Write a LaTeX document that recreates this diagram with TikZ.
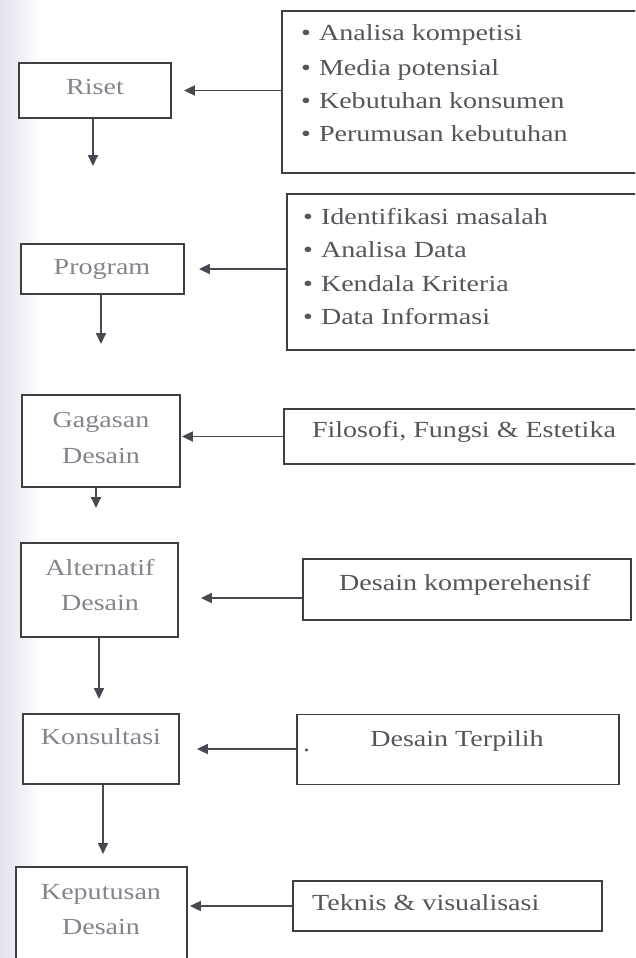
\documentclass[tikz,border=0pt]{standalone}
\usepackage{fontspec}
\newfontfamily\diagfont{Liberation Serif}[FakeStretch=1.22]
\usetikzlibrary{arrows.meta,calc}
\definecolor{edgecol}{RGB}{62,62,68}
\definecolor{arrcol}{RGB}{72,72,80}
\definecolor{txtdark}{RGB}{85,85,92}
\definecolor{txtlight}{RGB}{132,132,140}
\definecolor{scanshade}{RGB}{226,226,235}
\begin{document}
\begin{tikzpicture}[x=1pt,y=-1pt,
  box/.style={draw=edgecol, line width=1.8pt, fill=white, inner sep=0pt},
  ltxt/.style={font=\diagfont\fontsize{23}{30}\selectfont, text=txtlight, anchor=base, inner sep=0pt},
  rtxt/.style={font=\diagfont\fontsize{23}{30}\selectfont, text=txtdark, anchor=base, inner sep=0pt},
  btxt/.style={rtxt, anchor=base west},
  arr/.style={draw=arrcol, line width=1.8pt, -{Triangle[length=11pt,width=10pt]}}
]
\useasboundingbox (0,0) rectangle (635,958);
\clip (0,0) rectangle (635,958);
\fill[white] (0,0) rectangle (635,958);
\shade[left color=scanshade, right color=white] (0,0) rectangle (42,958);

% left column boxes
\node[box, minimum width=152pt, minimum height=55pt] (ris) at (95,90.5) {};
\node[box, minimum width=163pt, minimum height=50pt] (prog) at (102.5,269) {};
\node[box, minimum width=158pt, minimum height=92pt] (gag) at (101,441) {};
\node[box, minimum width=157pt, minimum height=94pt] (alt) at (99.5,590) {};
\node[box, minimum width=156pt, minimum height=70pt] (kons) at (101,749) {};
\node[box, minimum width=171pt, minimum height=130pt] (kep) at (101.5,932) {};

% left column texts
\node[ltxt] (tris) at (95,94) {Riset};
\node[ltxt] (tprog) at (102,274) {Program};
\node[ltxt] (tgag1) at (101,427) {Gagasan};
\node[ltxt] (tgag2) at (101,463) {Desain};
\node[ltxt] (talt1) at (100,575) {Alternatif};
\node[ltxt] (talt2) at (100,610) {Desain};
\node[ltxt] (tkons) at (101,744) {Konsultasi};
\node[ltxt] (tkep1) at (101,899) {Keputusan};
\node[ltxt] (tkep2) at (101,934) {Desain};

% right column boxes
\node[box, minimum width=370pt, minimum height=162pt] (b1) at (467,92) {};
\node[box, minimum width=365pt, minimum height=156pt] (b2) at (469.5,272) {};
\node[box, minimum width=370pt, minimum height=55pt] (b3) at (469,436.5) {};
\node[box, minimum width=328pt, minimum height=61pt] (b4) at (467,589.5) {};
\node[box, minimum width=322pt, minimum height=70pt] (b5) at (458,749.5) {};
\node[box, minimum width=309pt, minimum height=50pt] (b6) at (447.5,906) {};

% right column texts
\node[btxt] (l11) at (301,41) {•\hspace{8pt}Analisa kompetisi};
\node[btxt] (l12) at (301,75) {•\hspace{8pt}Media potensial};
\node[btxt] (l13) at (301,108) {•\hspace{8pt}Kebutuhan konsumen};
\node[btxt] (l14) at (301,141) {•\hspace{8pt}Perumusan kebutuhan};
\node[btxt] (l21) at (303,224) {•\hspace{8pt}Identifikasi masalah};
\node[btxt] (l22) at (303,257) {•\hspace{8pt}Analisa Data};
\node[btxt] (l23) at (303,291) {•\hspace{8pt}Kendala Kriteria};
\node[btxt] (l24) at (303,324) {•\hspace{8pt}Data Informasi};
\node[rtxt] (t3) at (464,437) {Filosofi, Fungsi \& Estetika};
\node[rtxt] (t4) at (465,590) {Desain komperehensif};
\node[rtxt] (t5) at (457,746) {Desain Terpilih};
\node[btxt] (t5dot) at (303,751) {.};
\node[btxt] (t6) at (312,910) {Teknis \& visualisasi};

% vertical arrows (free ends)
\coordinate (e1) at (93,166);
\coordinate (e2) at (101,344);
\coordinate (e3) at (96,508);
\coordinate (e4) at (99,699);
\coordinate (e5) at (103,854);
\draw[arr] (ris.south -| e1) -- (e1);
\draw[arr] (prog.south -| e2) -- (e2);
\draw[arr] (gag.south -| e3) -- (e3);
\draw[arr] (alt.south -| e4) -- (e4);
\draw[arr] (kons.south -| e5) -- (e5);

% horizontal arrows
\draw[arr, shorten >=12pt] (b1.west |- ris.east) -- (ris.east);
\draw[arr, shorten >=14pt] (b2.west |- prog.east) -- (prog.east);
\draw[arr, shorten >=1pt] (b3.west) -- (b3.west -| gag.east);
\coordinate (a4) at ($(b4.west)+(0,8.5)$);
\draw[arr, shorten >=22pt] (a4) -- (a4 -| alt.east);
\draw[arr, shorten >=17pt] (b5.west |- kons.east) -- (kons.east);
\draw[arr, shorten >=2pt] (b6.west) -- (b6.west -| kep.east);
\end{tikzpicture}
\end{document}
